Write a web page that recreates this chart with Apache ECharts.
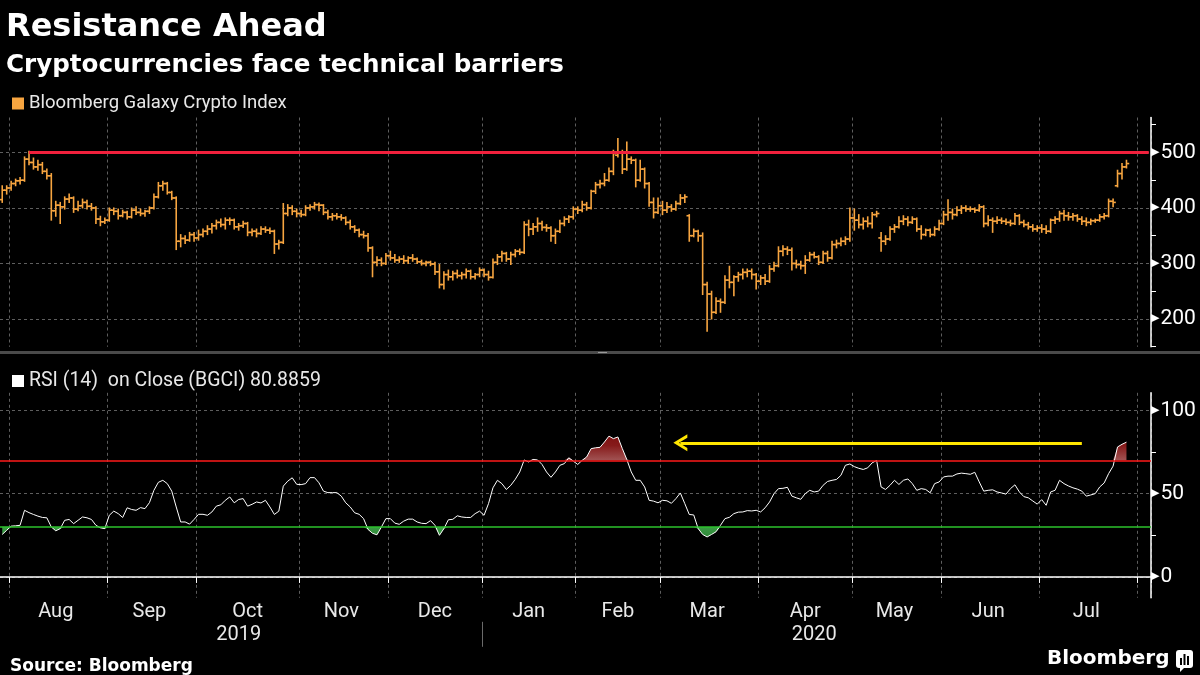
<!DOCTYPE html>
<html>
<head>
<meta charset="utf-8">
<script src="https://cdn.jsdelivr.net/npm/echarts@6/dist/echarts.min.js"></script>
<style>html,body{margin:0;padding:0;background:#000;}#c{width:1200px;height:675px;}</style>
</head>
<body>
<div id="c"></div>
<script>
// ---------- calendar (business days, US market holidays excluded) ----------
const startDate = '2019-07-30';
const endDate = '2020-08-05';
const holidays = ['2019-09-02','2019-11-28','2019-12-25','2020-01-01','2020-01-20','2020-02-17','2020-04-10','2020-05-25','2020-07-03'];
const monthNames = ['Jan','Feb','Mar','Apr','May','Jun','Jul','Aug','Sep','Oct','Nov','Dec'];

// ---------- Bloomberg Galaxy Crypto Index, daily OHLC ----------
const priceOpen = [
415,432,436,444,449,450,488,482,474,478,
466,458,395,405,402,416,418,398,404,410,
403,400,380,375,378,396,394,386,392,384,
396,392,390,394,400,420,440,444,428,418,
340,345,342,352,346,352,358,362,368,374,
370,378,378,366,368,372,356,358,354,362,
360,358,335,338,390,400,394,390,388,400,
402,406,405,392,384,386,384,382,374,366,
360,352,350,328,302,306,300,314,310,306,
308,305,310,308,303,300,302,299,285,262,
280,276,282,278,280,286,276,280,288,280,
275,302,312,318,308,316,322,320,370,362,
366,372,365,364,350,358,372,380,384,398,
396,406,400,430,442,444,450,466,495,500,
470,488,486,450,470,444,410,392,404,396,
402,398,408,418,386,350,358,350,262,245,
212,232,230,270,266,276,280,284,286,280,
268,274,268,290,296,322,326,324,300,298,
296,306,316,312,302,318,310,334,336,340,
344,382,378,370,376,372,388,346,340,344,
362,366,376,380,374,380,362,352,360,352,
362,372,388,392,388,396,400,398,398,396,
402,372,378,376,378,376,374,372,386,374,
370,366,362,364,362,358,378,380,390,386,
384,386,380,376,374,377,378,384,386,412,
440,462,474];
const priceHigh = [
440,440,448,452,455,492,502,490,486,482,
470,462,412,410,420,425,420,412,416,414,
408,402,385,382,400,400,398,396,394,400,
402,398,396,402,425,446,448,446,430,420,
352,350,356,356,360,362,368,372,378,380,
382,382,380,372,376,374,362,362,366,366,
364,360,342,408,406,404,398,396,404,406,
410,409,406,396,390,390,388,384,378,368,
362,358,354,330,312,310,318,322,316,312,
314,312,316,310,306,304,304,302,298,285,
288,286,288,284,290,288,282,292,290,286,
308,316,322,320,320,325,326,375,378,372,
382,376,370,366,362,378,384,386,402,402,
412,410,432,446,450,462,472,504,525,504,
519,492,488,486,472,446,418,418,412,410,
406,412,424,424,388,362,360,355,266,250,
238,236,278,295,278,284,290,290,290,282,
278,280,296,302,330,332,330,328,306,304,
314,320,320,314,322,322,340,342,346,348,
400,398,388,382,384,392,394,356,350,366,
370,384,386,384,384,382,368,362,362,366,
378,394,415,398,402,404,404,402,400,406,
404,386,382,384,382,380,378,390,388,378,
374,370,368,370,368,380,384,394,396,392,
390,388,384,382,380,380,388,390,416,416,
468,480,486];
const priceLow = [
410,425,432,440,443,448,478,470,468,462,
452,378,385,372,398,410,392,395,400,398,
396,372,368,372,376,388,380,384,380,382,
388,386,385,390,398,418,432,425,415,325,
330,336,340,340,342,348,352,355,362,366,
362,370,362,360,365,350,350,348,352,356,
354,318,326,336,386,388,384,384,386,396,
398,395,388,380,378,380,378,370,362,356,
348,346,322,276,296,296,298,306,302,302,
300,300,304,300,297,296,296,280,256,254,
270,270,274,272,274,272,272,276,276,270,
274,298,304,304,298,312,316,318,350,352,
358,360,358,340,336,356,368,374,380,390,
393,396,398,426,436,440,448,460,492,462,
468,480,438,448,436,403,382,390,388,392,
394,396,406,410,340,348,340,244,178,200,
210,212,228,256,242,268,272,276,272,254,
262,262,266,286,294,314,316,288,292,290,
282,304,310,298,300,304,308,328,332,334,
340,360,364,362,366,364,384,322,334,342,
356,364,370,368,372,358,344,350,348,350,
360,370,378,380,386,390,394,394,392,394,
366,368,356,372,372,370,368,370,370,366,
362,358,358,356,354,356,372,376,378,378,
378,376,370,368,370,374,376,380,384,402,
438,452,472];
const priceClose = [
432,436,444,449,450,488,482,474,478,466,
458,395,405,402,416,418,398,404,410,403,
400,380,375,378,396,394,386,392,384,396,
392,390,394,400,420,440,444,428,418,340,
345,342,352,346,352,358,362,368,374,370,
378,378,366,368,372,356,358,354,362,360,
358,335,338,390,400,394,390,388,400,402,
406,405,392,384,386,384,382,374,366,360,
352,350,328,302,306,300,314,310,306,308,
305,310,308,303,300,302,299,285,262,280,
276,282,278,280,286,276,280,288,280,275,
302,312,318,308,316,322,320,370,362,366,
372,365,364,350,358,372,380,384,398,396,
406,400,430,442,444,450,466,498,500,470,
488,486,450,470,444,410,392,404,396,402,
398,408,418,420,350,358,350,262,245,212,
232,230,270,266,276,280,284,286,280,268,
274,268,290,296,322,326,324,300,298,296,
306,316,312,302,318,310,334,336,340,344,
382,378,370,376,372,388,390,340,344,362,
366,376,380,374,380,362,352,360,352,362,
372,388,392,388,396,400,398,398,396,402,
372,378,376,378,376,374,372,386,374,370,
366,362,364,362,358,378,380,390,386,384,
386,380,376,374,377,378,384,386,412,410,
462,474,480];

// ---------- RSI (14) on close ----------
const rsi = [
25.5,28,30.5,30.7,31,40,38.6,37.5,36.5,35.7,
35.5,30,27.7,29,34,34.5,32,34,36,35.5,
34.5,31,29.5,29,37,39.5,38,35.7,41.5,40.5,
40,41.6,41,44.6,52,56.8,58,56,51.5,42,
33,33,31.7,34.5,37.6,37.6,37,39,42.5,43.3,
46,48,44.5,46.5,47,42.5,43.6,45,44.4,46,
42,37.5,39.5,54.5,57.5,59.5,55.6,55.4,56,59.6,
59.6,56.5,51.5,50.6,50.6,50.6,48.5,44.5,42,38.5,
37.6,35,28.5,26.2,25.3,30,35,35,32.3,31.6,
33.5,34.7,34.7,33,32.2,32,33.8,31,25,29,
34.3,34.6,36.7,36,35.7,35.7,38,39.5,37,44,
53.5,58,56,52.5,55,58.6,63,70.2,69,70.5,
70.2,67.5,63,59.8,63,67,68,71.5,69.5,67.5,
70,72,77,77.5,77.8,81,84.5,83,84,77,
70.5,63,58,58,54,46,45.5,44.5,46,45.7,
44.2,47,50.4,44,37.5,37.2,29,25.5,24,25.5,
27.1,31,35,35.8,38,38.9,39,39.8,39.6,40,
39,41.5,45,50,53,53.2,53.8,48.5,47.5,46.6,
50,52,51,51.5,55,57.3,58,58.5,61,67,
67.8,66.2,65.2,64.5,65.5,68.5,69.9,54,52.5,55,
58,55.5,58,58.8,56,52,53,52.5,50.5,56,
57,60,60.5,60.5,61.8,62.3,62,61.6,62.8,57,
51.5,52,52.3,51,50.4,49.7,53,55.3,51,48.2,
47.5,45.6,43.7,46.4,43,51,52,58,56,54.6,
53.5,52.7,51.5,48.5,49.2,50,54,56.4,62,66.5,
78,79.6,80.8859];

// ---------- levels and ticks ----------
const resistanceLevel = 500;
const resistanceStartIndex = 6;
const rsiUpper = 70;
const rsiLower = 30;
const priceTickValues = [150,200,250,300,350,400,450,500,550];
const priceLabelValues = [200,300,400,500];
const rsiTickValues = [0,25,50,75,100];
const rsiLabelValues = [0,50,100];
const arrowLevel = 80.5;
const arrowFromIndex = 242;
const arrowToIndex = 152;

// ---------- build categories ----------
const categories = [];
(function () {
  const hol = new Set(holidays);
  const s = new Date(startDate + 'T00:00:00Z');
  const e = new Date(endDate + 'T00:00:00Z');
  for (let d = new Date(s); d <= e; d.setUTCDate(d.getUTCDate() + 1)) {
    const wd = d.getUTCDay();
    const iso = d.toISOString().slice(0, 10);
    if (wd !== 0 && wd !== 6 && !hol.has(iso)) categories.push(iso);
  }
})();

const monthStartIdx = new Set();
const monthSegs = [];
let segStart = 0;
for (let i = 1; i <= categories.length; i++) {
  if (i === categories.length || categories[i].slice(0, 7) !== categories[i - 1].slice(0, 7)) {
    monthSegs.push([segStart, i]);
    if (i < categories.length) monthStartIdx.add(i);
    segStart = i;
  }
}
const monthLabelIdx = new Set();
monthSegs.forEach(([s, e]) => { if (e - s >= 10) monthLabelIdx.add(Math.floor((s + e - 1) / 2)); });

const yearSegs = [];
let ys = 0;
for (let i = 1; i <= categories.length; i++) {
  if (i === categories.length || categories[i].slice(0, 4) !== categories[i - 1].slice(0, 4)) {
    yearSegs.push([ys, i]); ys = i;
  }
}
const yearLabelIdx = new Set(yearSegs.map(([s, e]) => Math.floor((s + e - 1) / 2)));
const yearStartIdx = yearSegs.slice(1).map(([s]) => s);

// ---------- derived display series ----------
const ohlc = priceClose.map((c, i) => [i, priceOpen[i], priceHigh[i], priceLow[i], c]);
const obBase = rsi.map(() => rsiUpper);
const obFill = rsi.map(v => Math.max(v, rsiUpper) - rsiUpper);
const osBase = rsi.map(v => Math.min(v, rsiLower));
const osFill = rsi.map(v => rsiLower - Math.min(v, rsiLower));

const FONT = 'Roboto, "Noto Sans", sans-serif';
const BOLD = '"DejaVu Sans", Roboto, sans-serif';
const ORANGE = '#f7a540';
const GRID_COL = '#5e5e5e';
const CLEAR = 'rgba(0,0,0,0)';
const TXT = '#e8e8e8';

const chart = echarts.init(document.getElementById('c'), null, { renderer: 'canvas', width: 1200, height: 675 });

const triRich = { t: { fontSize: 11, color: '#fff', fontFamily: 'DejaVu Sans', padding: [0, 1, 1, 0] } };

const option = {
  backgroundColor: '#000',
  animation: false,
  textStyle: { fontFamily: FONT },
  title: [
    { text: 'Resistance Ahead', left: 1, top: 5, textStyle: { color: '#fff', fontSize: 32, fontWeight: 'bold', fontFamily: BOLD, lineHeight: 35 } },
    { text: 'Cryptocurrencies face technical barriers', left: 1, top: 46, textStyle: { color: '#fff', fontSize: 24.6, fontWeight: 'bold', fontFamily: BOLD, lineHeight: 29 } },
    { text: 'Source: Bloomberg', left: 5, top: 652, textStyle: { color: '#fff', fontSize: 17, fontWeight: 'bold', fontFamily: BOLD, lineHeight: 20 } }
  ],
  legend: [
    {
      data: [{ name: 'Bloomberg Galaxy Crypto Index', icon: 'rect' }],
      left: 7, top: 89, itemWidth: 12, itemHeight: 12, itemGap: 5, selectedMode: false,
      textStyle: { color: TXT, fontSize: 18.5, fontFamily: FONT }
    },
    {
      data: [{ name: 'RSI', icon: 'rect' }],
      left: 7, top: 366, itemWidth: 12, itemHeight: 12, selectedMode: false,
      formatter: () => 'RSI (14)  on Close (BGCI) ' + rsi[rsi.length - 1],
      textStyle: { color: TXT, fontSize: 19.5, fontFamily: FONT }
    }
  ],
  grid: [
    { left: 0, width: 1151, top: 117.5, height: 229.2 },
    { left: 0, width: 1151, top: 392.8, height: 205 }
  ],
  xAxis: [
    {
      type: 'category', gridIndex: 0, data: categories, boundaryGap: true,
      axisLine: { show: false }, axisTick: { show: false }, axisLabel: { show: false },
      splitLine: { show: true, interval: (i) => monthStartIdx.has(i), lineStyle: { color: GRID_COL, width: 1, type: [3, 3] } }
    },
    {
      type: 'category', gridIndex: 1, data: categories, boundaryGap: true,
      axisLine: { show: true, lineStyle: { color: '#fff', width: 1.5 } },
      axisTick: { show: true, interval: (i) => monthStartIdx.has(i), length: 6, lineStyle: { color: '#fff', width: 1 } },
      axisLabel: {
        show: true, interval: (i) => monthLabelIdx.has(i),
        formatter: (v) => monthNames[parseInt(v.slice(5, 7), 10) - 1],
        color: TXT, fontSize: 20, fontFamily: FONT, margin: 4
      },
      splitLine: { show: true, interval: (i) => monthStartIdx.has(i), lineStyle: { color: GRID_COL, width: 1, type: [3, 3] } }
    },
    {
      type: 'category', gridIndex: 1, data: categories, boundaryGap: true, position: 'bottom', offset: 25,
      axisLine: { show: false },
      axisTick: { show: false },
      axisLabel: {
        show: true, interval: (i) => yearLabelIdx.has(i),
        formatter: (v) => v.slice(0, 4), color: TXT, fontSize: 20, fontFamily: FONT, margin: 2
      },
      splitLine: { show: false }
    }
  ],
  yAxis: [
    {
      type: 'value', gridIndex: 0, position: 'right', min: 150, max: 563, interval: 50,
      axisLine: { show: true, lineStyle: { color: '#fff', width: 1.5 } },
      axisTick: { show: true, customValues: priceTickValues, length: 5, lineStyle: { color: '#fff', width: 1 } },
      axisLabel: {
        customValues: priceLabelValues, margin: 0, color: '#fff', fontSize: 21, fontFamily: FONT,
        formatter: (v) => priceLabelValues.indexOf(v) >= 0 ? '{t|▶}' + v : '',
        rich: triRich
      },
      splitLine: { show: true, showMinLine: true, showMaxLine: false, lineStyle: { color: [CLEAR, GRID_COL], width: 1, type: [3, 3] } }
    },
    {
      type: 'value', gridIndex: 1, position: 'right', min: -12.5, max: 110.5, interval: 12.5,
      axisLine: { show: true, lineStyle: { color: '#fff', width: 1.5 } },
      axisTick: { show: true, customValues: rsiTickValues, length: 5, lineStyle: { color: '#fff', width: 1 } },
      axisLabel: {
        customValues: rsiLabelValues, margin: 0, color: '#fff', fontSize: 21, fontFamily: FONT,
        formatter: (v) => rsiLabelValues.indexOf(v) >= 0 ? '{t|▶}' + v : '',
        rich: triRich
      },
      splitLine: { show: true, showMinLine: true, showMaxLine: true, lineStyle: { color: [GRID_COL, CLEAR], width: 1, type: [3, 3] } }
    }
  ],
  series: [
    {
      name: 'Bloomberg Galaxy Crypto Index', type: 'custom', xAxisIndex: 0, yAxisIndex: 0,
      data: ohlc, encode: { x: 0, y: [1, 2, 3, 4] },
      itemStyle: { color: ORANGE },
      renderItem: function (params, api) {
        const i = api.value(0);
        const o = api.coord([i, api.value(1)]);
        const h = api.coord([i, api.value(2)]);
        const l = api.coord([i, api.value(3)]);
        const c = api.coord([i, api.value(4)]);
        const w = api.size([1, 0])[0] * 0.62;
        const st = { stroke: ORANGE, lineWidth: 1.6 };
        return {
          type: 'group', children: [
            { type: 'line', shape: { x1: h[0], y1: h[1] - 0.5, x2: l[0], y2: l[1] + 0.5 }, style: st },
            { type: 'line', shape: { x1: o[0] - w, y1: o[1], x2: o[0], y2: o[1] }, style: st },
            { type: 'line', shape: { x1: c[0], y1: c[1], x2: c[0] + w, y2: c[1] }, style: st }
          ]
        };
      },
      markLine: {
        silent: true, symbol: 'none', label: { show: false },
        lineStyle: { color: '#f0203c', width: 3, type: 'solid' },
        data: [[{ coord: [categories[resistanceStartIndex], resistanceLevel] }, { coord: [categories[categories.length - 1], resistanceLevel] }]]
      },
      z: 3
    },
    {
      name: 'obBase', type: 'line', xAxisIndex: 1, yAxisIndex: 1, stack: 'ob', data: obBase,
      showSymbol: false, symbol: 'none', lineStyle: { opacity: 0, width: 0 }, silent: true, z: 1
    },
    {
      name: 'obFill', type: 'line', xAxisIndex: 1, yAxisIndex: 1, stack: 'ob', data: obFill,
      showSymbol: false, symbol: 'none', lineStyle: { opacity: 0, width: 0 }, silent: true, z: 1,
      areaStyle: {
        opacity: 1,
        color: { type: 'linear', x: 0, y: 430, x2: 0, y2: 461, global: true,
          colorStops: [{ offset: 0, color: '#7a0c0c' }, { offset: 0.5, color: '#861a1a' }, { offset: 1, color: '#a25656' }] }
      }
    },
    {
      name: 'osBase', type: 'line', xAxisIndex: 1, yAxisIndex: 1, stack: 'os', data: osBase,
      showSymbol: false, symbol: 'none', lineStyle: { opacity: 0, width: 0 }, silent: true, z: 1
    },
    {
      name: 'osFill', type: 'line', xAxisIndex: 1, yAxisIndex: 1, stack: 'os', data: osFill,
      showSymbol: false, symbol: 'none', lineStyle: { opacity: 0, width: 0 }, silent: true, z: 1,
      areaStyle: {
        opacity: 1,
        color: { type: 'linear', x: 0, y: 527, x2: 0, y2: 552, global: true,
          colorStops: [{ offset: 0, color: '#3a9a44' }, { offset: 1, color: '#226e2a' }] }
      },
      markLine: {
        silent: true, label: { show: false }, animation: false,
        data: [[
          { coord: [categories[arrowFromIndex], arrowLevel], symbol: 'none' },
          { coord: [categories[arrowToIndex], arrowLevel], symbol: 'path://M0,14 L8.5,0 L17,14 L13.6,14 L8.5,5.6 L3.4,14 Z', symbolSize: [17, 14], symbolKeepAspect: false }
        ]],
        lineStyle: { color: '#ffe600', width: 3, type: 'solid' },
        itemStyle: { color: '#ffe600' }
      }
    },
    {
      name: 'RSI', type: 'line', xAxisIndex: 1, yAxisIndex: 1, data: rsi,
      showSymbol: false, symbol: 'none', itemStyle: { color: '#ffffff' },
      lineStyle: { color: '#ffffff', width: 1 }, z: 4,
      markLine: {
        silent: true, symbol: 'none', label: { show: false },
        data: [
          { yAxis: rsiUpper, lineStyle: { color: '#ff1a1a', width: 1.5, type: 'solid' } },
          { yAxis: rsiLower, lineStyle: { color: '#2cc22c', width: 1.5, type: 'solid' } }
        ]
      }
    }
  ],
  graphic: [
    { id: 'sep', type: 'rect', left: 0, top: 351, shape: { width: 1200, height: 3 }, style: { fill: '#4a4a4a' }, silent: true },
    { id: 'handle', type: 'rect', left: 598, top: 352, shape: { width: 9, height: 1 }, style: { fill: '#9a9a9a' }, silent: true },
    { id: 'logoText', type: 'text', left: 1047, top: 649, style: { text: 'Bloomberg', fill: '#fff', font: 'bold 20px ' + BOLD } },
    {
      id: 'logoIcon', type: 'group', left: 1176, top: 650, children: [
        { type: 'rect', shape: { x: 0, y: 0, width: 17, height: 18, r: 3 }, style: { fill: '#fff' } },
        { type: 'polygon', shape: { points: [[4, 17], [9, 17], [4, 22]] }, style: { fill: '#fff' } },
        { type: 'rect', shape: { x: 4, y: 8, width: 2, height: 7 }, style: { fill: '#000' } },
        { type: 'rect', shape: { x: 7.5, y: 4, width: 2, height: 11 }, style: { fill: '#000' } },
        { type: 'rect', shape: { x: 11, y: 6, width: 2, height: 9 }, style: { fill: '#000' } }
      ]
    }
  ]
};
chart.setOption(option);

// year separator on the axis, positioned from the category scale
(function () {
  const grid = chart.getModel().getComponent('grid', 1).coordinateSystem.getRect();
  const x0 = chart.convertToPixel({ xAxisIndex: 1 }, categories[0]);
  const x1 = chart.convertToPixel({ xAxisIndex: 1 }, categories[1]);
  const half = (x1 - x0) / 2;
  const bottom = grid.y + grid.height;
  const seps = yearStartIdx.map((idx, k) => {
    const x = Math.round(chart.convertToPixel({ xAxisIndex: 1 }, categories[idx]) - half) + 0.5;
    return { id: 'yearSep' + k, type: 'line', silent: true,
      shape: { x1: x, y1: bottom + 24, x2: x, y2: bottom + 49 }, style: { stroke: '#6a6a6a', lineWidth: 1 } };
  });
  chart.setOption({ graphic: seps });
})();
</script>
</body>
</html>
